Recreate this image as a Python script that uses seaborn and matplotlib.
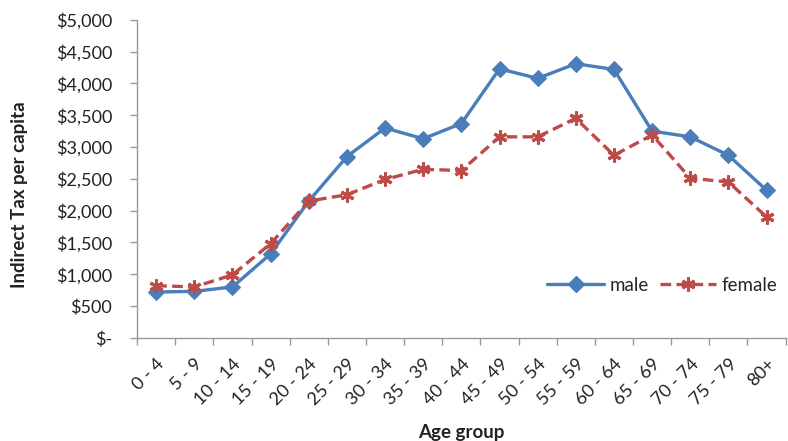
import matplotlib
matplotlib.use("Agg")
import matplotlib.pyplot as plt
import matplotlib.ticker as mticker
from matplotlib.lines import Line2D
import seaborn as sns
import pandas as pd

age_groups = ["0 - 4", "5 - 9", "10 - 14", "15 - 19", "20 - 24", "25 - 29", "30 - 34",
              "35 - 39", "40 - 44", "45 - 49", "50 - 54", "55 - 59", "60 - 64", "65 - 69",
              "70 - 74", "75 - 79", "80+"]
male = [720, 730, 800, 1320, 2150, 2850, 3300, 3130, 3370, 4230, 4080, 4310, 4220,
        3250, 3160, 2870, 2320]
female = [820, 800, 990, 1480, 2150, 2250, 2490, 2650, 2630, 3160, 3160, 3450, 2870,
          3190, 2510, 2450, 1900]

pos = list(range(len(age_groups)))
df_male = pd.DataFrame({"age": pos, "value": male})
df_female = pd.DataFrame({"age": pos, "value": female})

sns.set_theme(style="white")
plt.rcParams["font.family"] = ["Lato", "DejaVu Sans"]

fig = plt.figure(figsize=(7.88, 4.41), dpi=100)
ax = fig.add_axes([0.174, 0.234, 0.823, 0.721])

blue = "#4A7EBB"
red = "#BE4B48"
female_dash = (0, (3.2, 1.6))
star = (6, 2, 0)

sns.lineplot(data=df_male, x="age", y="value", color=blue, linewidth=2.4,
             marker="D", markersize=8, markeredgecolor=blue, ax=ax)
sns.lineplot(data=df_female, x="age", y="value", color=red, linewidth=2.4,
             linestyle=female_dash, marker=star, markersize=10, markeredgewidth=2.2,
             markeredgecolor=red, ax=ax)

ax.set_xlim(-0.5, len(age_groups) - 0.5)
ax.set_ylim(0, 5000)
ax.set_xticks(pos)
ax.set_xticklabels(age_groups, rotation=45, ha="right", rotation_mode="anchor",
                   fontsize=13, color="#222222")
ax.set_xticks([i - 0.5 for i in range(len(age_groups) + 1)], minor=True)
ax.tick_params(axis="x", which="major", length=0, pad=13)
ax.tick_params(axis="x", which="minor", length=5, width=1, color="#999999",
               direction="out", bottom=True)
ax.set_yticks(range(0, 5001, 500))
ax.yaxis.set_major_formatter(mticker.FuncFormatter(
    lambda v, p: "$-" if v == 0 else f"${v:,.0f}"))
ax.tick_params(axis="y", length=5, width=1, color="#999999", direction="out",
               left=True, labelsize=13, labelcolor="#222222", pad=13)

for s in ["top", "right"]:
    ax.spines[s].set_visible(False)
for s in ["left", "bottom"]:
    ax.spines[s].set_color("#999999")
    ax.spines[s].set_linewidth(1)

ax.set_xlabel("Age group", fontsize=13.5, fontweight="bold", color="#222222")
ax.set_ylabel("Indirect Tax per capita", fontsize=13.5, fontweight="bold",
              color="#222222")
ax.xaxis.set_label_coords(0.5, -0.27)
ax.yaxis.set_label_coords(-0.168, 0.45)

handles = [
    Line2D([], [], color=blue, lw=2.4, marker="D", markersize=8, markeredgecolor=blue),
    Line2D([], [], color=red, lw=2.4, ls=female_dash, marker=star,
           markersize=10, markeredgewidth=2.2, markeredgecolor=red),
]
ax.legend(handles, ["male", "female"], loc="center", bbox_to_anchor=(0.81, 0.165),
          ncol=2, frameon=False, fontsize=13.5, handlelength=3.0, handletextpad=0.3,
          columnspacing=0.6)

fig.savefig("out.png", dpi=100)
